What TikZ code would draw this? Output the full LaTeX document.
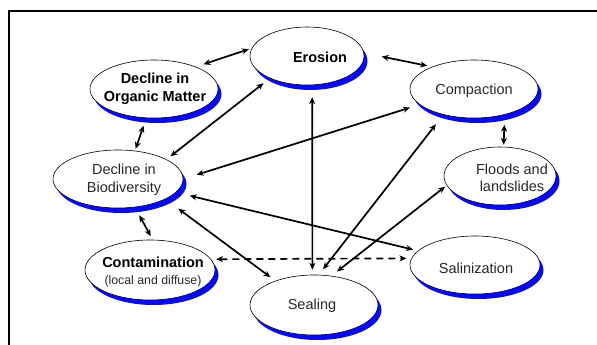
\documentclass[tikz,border=0pt]{standalone}
\usepackage{fontspec}
\setmainfont{Liberation Sans}
\usetikzlibrary{shapes.geometric,shadows,arrows.meta}
\definecolor{shblue}{RGB}{10,10,240}
\definecolor{txtgray}{RGB}{40,40,40}
\begin{document}
\begin{tikzpicture}[x=1pt,y=-1pt,
 ell/.style={ellipse,draw=black,line width=0.6pt,fill=white,inner sep=0pt,minimum height=58pt,
   drop shadow={shadow xshift=3.5pt,shadow yshift=-5pt,fill=shblue,opacity=1}},
 lab/.style={font=\fontsize{14.5}{17.5}\selectfont,text=txtgray,align=center,inner sep=0pt},
 blab/.style={lab,font=\fontsize{14.5}{17.5}\selectfont\bfseries,text=black},
 link/.style={line width=1.7pt,{Stealth[length=7pt,width=6pt]}-{Stealth[length=7pt,width=6pt]}}]
\useasboundingbox (0,0) rectangle (597,345);
\draw[line width=1.6pt] (9,346) -- (9,11) -- (598,11);
% ellipses
\node[ell,minimum width=114pt] (E) at (307,56) {};
\node[ell,minimum width=128pt] (O) at (154,89) {};
\node[ell,minimum width=128pt] (C) at (474,89) {};
\node[ell,minimum width=112pt] (F) at (500,176) {};
\node[ell,minimum width=130pt] (B) at (118,179) {};
\node[ell,minimum width=130pt,minimum height=60pt] (T) at (150,270) {};
\node[ell,minimum width=130pt] (L) at (475,265) {};
\node[ell,minimum width=128pt,minimum height=60pt] (S) at (314,305) {};
% labels
\node[blab] (Et) at (320,57) {Erosion};
\node[blab] (Ot) at (155,89) {Decline in\\Organic Matter};
\node[lab] (Ct) at (474,91) {Compaction};
\node[lab] (Ft) at (512,178) {Floods and\\landslides};
\node[lab] (Bt) at (124,180) {Decline in\\Biodiversity};
\node[blab] (Tt) at (153,272) {Contamination\\{\fontsize{12.3}{14}\selectfont\mdseries\color{txtgray}(local and diffuse)}};
\node[lab] (Lt) at (476,268) {Salinization};
\node[lab] (St) at (312,306) {Sealing};
% connectors
\draw[link,shorten <=8pt,shorten >=3pt] (O.28) -- (E.172);
\draw[link,shorten <=18pt,shorten >=5pt] (E.3) -- (C.152);
\draw[link,shorten <=8pt,shorten >=2pt] (O.255) -- (B.59);
\draw[link,shorten <=5pt,shorten >=8pt] (B.22) -- (E.211);
\draw[link,shorten <=14pt,shorten >=10pt] (B.0) -- (C.196);
\draw[link,shorten <=14pt,shorten >=5pt] (B.-13) -- (L.166);
\draw[link,shorten <=16pt,shorten >=6pt] (B.-23) -- (S.148);
\draw[link,shorten <=9pt,shorten >=4pt] (B.-59) -- (T.85);
\draw[link,dash pattern=on 7pt off 5pt,shorten <=5pt,shorten >=5pt] (T.10) -- (L.174);
\draw[link,shorten <=12pt,shorten >=5pt] (E.-80) -- (S.93);
\draw[link,shorten <=12pt,shorten >=7pt] (C.220) -- (S.81);
\draw[link,shorten <=2pt,shorten >=7pt] (F.190) -- (S.59);
\draw[link,shorten <=10pt,shorten >=2pt] (C.-40) -- (F.83);
\end{tikzpicture}
\end{document}
